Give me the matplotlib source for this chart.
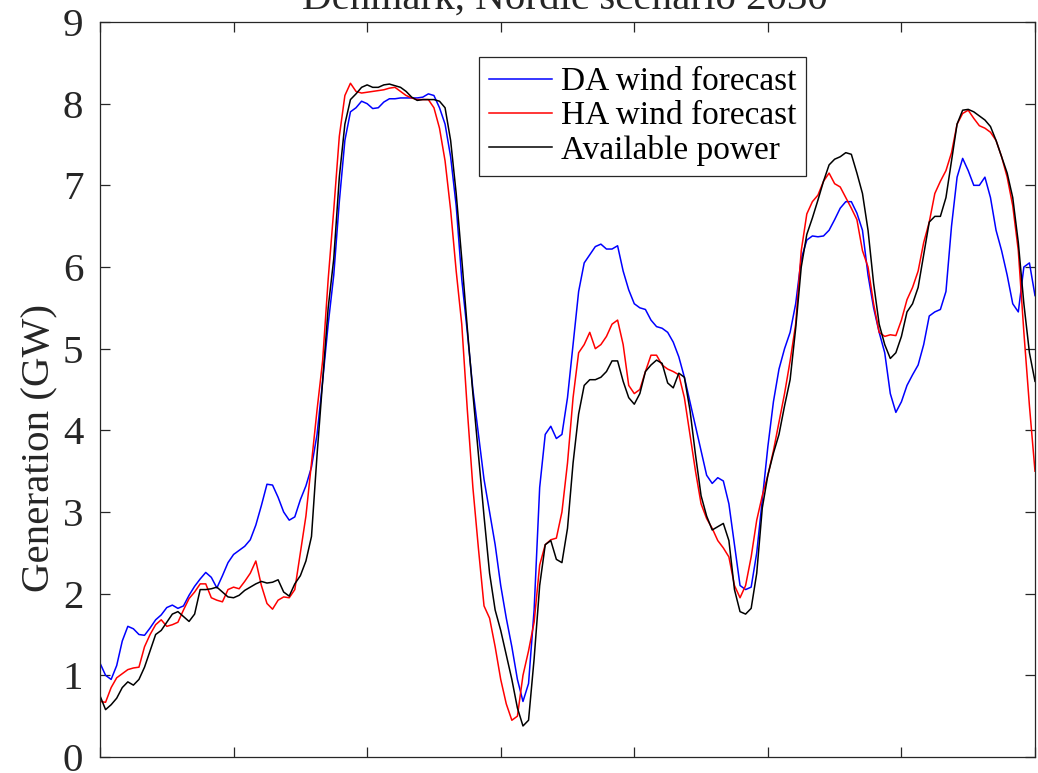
import numpy as np
import matplotlib
matplotlib.use("Agg")
import matplotlib.pyplot as plt

hours = list(range(0, 169))

da_forecast = [
    1.15, 1.00, 0.95, 1.12, 1.42, 1.60, 1.57, 1.50, 1.49, 1.58,
    1.68, 1.74, 1.83, 1.86, 1.82, 1.85, 1.98, 2.09, 2.18, 2.26,
    2.20, 2.07, 2.22, 2.38, 2.48, 2.53, 2.58, 2.66, 2.84, 3.08,
    3.34, 3.33, 3.18, 3.00, 2.90, 2.94, 3.15, 3.32, 3.55, 3.95,
    4.60, 5.30, 5.90, 6.80, 7.55, 7.90, 7.95, 8.03, 8.00, 7.94,
    7.95, 8.02, 8.06, 8.06, 8.07, 8.07, 8.07, 8.07, 8.08, 8.12,
    8.10, 7.95, 7.75, 7.35, 6.75, 5.85, 5.20, 4.50, 3.95, 3.40,
    3.00, 2.60, 2.10, 1.70, 1.35, 0.95, 0.68, 0.90, 1.80, 3.30,
    3.95, 4.05, 3.90, 3.95, 4.40, 5.05, 5.70, 6.05, 6.15, 6.25,
    6.28, 6.22, 6.22, 6.26, 5.95, 5.72, 5.55, 5.50, 5.48, 5.35,
    5.27, 5.25, 5.20, 5.08, 4.90, 4.65, 4.35, 4.05, 3.75, 3.45,
    3.35, 3.42, 3.38, 3.10, 2.60, 2.10, 2.05, 2.08, 2.50, 3.15,
    3.80, 4.35, 4.75, 5.00, 5.20, 5.55, 6.10, 6.33, 6.38, 6.37,
    6.38, 6.45, 6.58, 6.72, 6.80, 6.80, 6.66, 6.45, 5.90, 5.50,
    5.20, 4.95, 4.45, 4.22, 4.35, 4.55, 4.68, 4.80, 5.05, 5.40,
    5.45, 5.48, 5.70, 6.50, 7.10, 7.33, 7.18, 7.00, 7.00, 7.10,
    6.85, 6.45, 6.20, 5.90, 5.55, 5.45, 6.00, 6.05, 5.65,
]

ha_forecast = [
    0.68, 0.67, 0.85, 0.97, 1.02, 1.07, 1.09, 1.10, 1.35, 1.50,
    1.62, 1.68, 1.60, 1.62, 1.65, 1.80, 1.94, 2.02, 2.12, 2.12,
    1.95, 1.92, 1.90, 2.05, 2.08, 2.06, 2.15, 2.25, 2.40, 2.10,
    1.88, 1.81, 1.92, 1.96, 1.95, 2.05, 2.50, 2.95, 3.60, 4.25,
    4.85, 5.85, 6.70, 7.60, 8.10, 8.25, 8.15, 8.13, 8.14, 8.15,
    8.16, 8.17, 8.19, 8.20, 8.15, 8.10, 8.07, 8.05, 8.05, 8.05,
    7.95, 7.70, 7.30, 6.70, 5.95, 5.30, 4.25, 3.30, 2.55, 1.85,
    1.70, 1.35, 0.95, 0.65, 0.45, 0.50, 1.00, 1.30, 1.65, 2.35,
    2.60, 2.66, 2.68, 3.00, 3.60, 4.40, 4.95, 5.05, 5.20, 5.00,
    5.05, 5.15, 5.30, 5.35, 5.05, 4.55, 4.45, 4.50, 4.72, 4.92,
    4.92, 4.80, 4.75, 4.72, 4.68, 4.40, 3.95, 3.50, 3.10, 2.92,
    2.80, 2.65, 2.56, 2.45, 2.10, 1.95, 2.10, 2.45, 2.90, 3.20,
    3.45, 3.75, 4.10, 4.45, 4.85, 5.30, 6.20, 6.65, 6.80, 6.88,
    7.05, 7.15, 7.02, 6.98, 6.85, 6.72, 6.58, 6.20, 6.00, 5.55,
    5.20, 5.15, 5.17, 5.16, 5.35, 5.60, 5.75, 5.95, 6.30, 6.55,
    6.90, 7.05, 7.18, 7.40, 7.75, 7.88, 7.92, 7.82, 7.73, 7.70,
    7.65, 7.55, 7.35, 7.10, 6.75, 6.20, 5.20, 4.30, 3.50,
]

available_power = [
    0.75, 0.58, 0.64, 0.72, 0.85, 0.92, 0.88, 0.95, 1.10, 1.30,
    1.50, 1.55, 1.65, 1.75, 1.78, 1.72, 1.66, 1.75, 2.05, 2.05,
    2.06, 2.08, 2.02, 1.96, 1.95, 1.98, 2.04, 2.08, 2.12, 2.15,
    2.13, 2.14, 2.17, 2.02, 1.97, 2.12, 2.22, 2.40, 2.70, 3.70,
    4.60, 5.50, 6.10, 7.10, 7.75, 8.05, 8.12, 8.20, 8.23, 8.20,
    8.20, 8.23, 8.24, 8.22, 8.20, 8.15, 8.08, 8.04, 8.05, 8.05,
    8.05, 8.03, 7.95, 7.55, 6.90, 6.10, 5.25, 4.45, 3.70, 2.95,
    2.25, 1.80, 1.55, 1.25, 0.95, 0.60, 0.38, 0.45, 1.20, 2.10,
    2.60, 2.65, 2.42, 2.38, 2.80, 3.60, 4.20, 4.55, 4.62, 4.62,
    4.65, 4.72, 4.85, 4.85, 4.60, 4.40, 4.32, 4.45, 4.72, 4.80,
    4.86, 4.82, 4.58, 4.52, 4.70, 4.65, 4.25, 3.70, 3.20, 2.95,
    2.78, 2.82, 2.86, 2.65, 2.05, 1.78, 1.75, 1.82, 2.25, 3.05,
    3.45, 3.72, 3.95, 4.30, 4.62, 5.25, 6.00, 6.40, 6.60, 6.82,
    7.05, 7.25, 7.32, 7.35, 7.40, 7.38, 7.15, 6.90, 6.45, 5.80,
    5.30, 5.05, 4.88, 4.95, 5.15, 5.45, 5.55, 5.75, 6.15, 6.55,
    6.62, 6.62, 6.85, 7.30, 7.75, 7.92, 7.93, 7.90, 7.85, 7.80,
    7.72, 7.55, 7.35, 7.15, 6.85, 6.30, 5.55, 4.95, 4.60,
]

series_labels = ["DA wind forecast", "HA wind forecast", "Available power"]
series_colors = ["#0000ff", "#ff0000", "#000000"]
y_ticks = list(range(0, 10))
x_ticks = list(range(0, 169, 24))
title_text = "Denmark, Nordic scenario 2030"
y_label = "Generation (GW)"

plt.rcParams["font.family"] = ["Liberation Serif", "DejaVu Serif"]

W, H = 1038, 773
fig = plt.figure(figsize=(W / 100, H / 100), dpi=100)
ax = fig.add_axes([100 / W, (H - 757) / H, 935 / W, 735 / H])

for data, lab, col in zip([da_forecast, ha_forecast, available_power],
                          series_labels, series_colors):
    ax.plot(hours, data, color=col, lw=1.1, label=lab)

ax.set_xlim(0, 168)
ax.set_ylim(0, 9)
ax.set_xticks(x_ticks)
ax.set_yticks(y_ticks)
ax.tick_params(direction="in", length=7, width=0.9, color="#262626",
               top=True, right=True, labelbottom=False,
               labelsize=29.5, labelcolor="#262626", pad=12)
for s in ax.spines.values():
    s.set_linewidth(0.9)
    s.set_color("#262626")

fig.text(40 / W, 1 - 448 / H, y_label, rotation=90, ha="center", va="center",
         fontsize=29.5, color="#262626")
fig.text(565 / W, 1 - 9 / H, title_text, ha="center", va="baseline",
         fontsize=29.5, color="#262626")

leg = ax.legend(loc="upper left", bbox_to_anchor=((479 - 100) / 935, (757 - 57) / 735),
                borderaxespad=0, fontsize=24, frameon=True, fancybox=False,
                framealpha=1, edgecolor="#262626", handlelength=1.9,
                handletextpad=0.25, labelspacing=0.1, borderpad=0.3)
leg.get_frame().set_linewidth(0.9)

fig.savefig("out.png", dpi=100)
